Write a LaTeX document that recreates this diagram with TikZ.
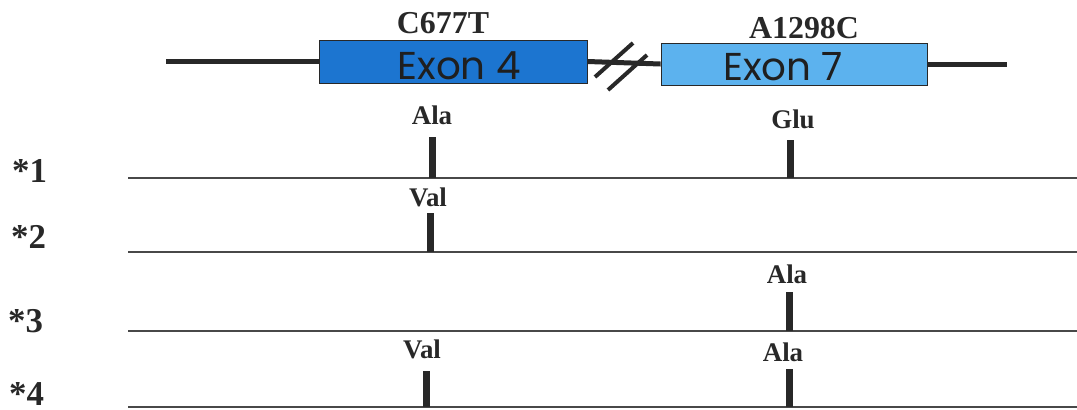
\documentclass[tikz,border=0pt]{standalone}
\usepackage{fontspec}
\setmainfont{Liberation Serif}
\newfontfamily\exonfont{Poppins}
\definecolor{exonA}{RGB}{28,117,208}
\definecolor{exonB}{RGB}{92,178,238}
\definecolor{ink}{RGB}{40,40,40}
\begin{document}
\begin{tikzpicture}[x=1bp,y=-1bp,
  gene/.style={line width=5bp, draw=ink},
  breakmark/.style={line width=4bp, draw=ink},
  exonbox/.style={draw=ink, line width=0.8bp, inner sep=0pt},
  exontext/.style={inner sep=0pt, anchor=base,
    font=\exonfont\fontsize{39}{39}\selectfont, text=black!88},
  sitelabel/.style={font=\bfseries\fontsize{32}{32}\selectfont, text=ink, anchor=base, inner sep=0pt},
  aalabel/.style={font=\bfseries\fontsize{27}{27}\selectfont, text=ink, anchor=base, inner sep=0pt},
  rowlabel/.style={font=\bfseries\fontsize{35}{35}\selectfont, text=ink, anchor=base west, inner sep=0pt},
  allele/.style={line width=1.4bp, draw=ink!85},
  snpbar/.style={line width=7bp, draw=ink}
]
\useasboundingbox (0,0) rectangle (1077,409);

% gene structure
\node[exonbox, fill=exonA, minimum width=268bp, minimum height=43bp] (exon4) at (453,61.5) {};
\node[exonbox, fill=exonB, minimum width=266bp, minimum height=42bp] (exon7) at (794,64) {};
\node[exontext] (exon4txt) at (459,79) {Exon 4};
\node[exontext] (exon7txt) at (783,80) {Exon 7};
\coordinate (gl) at (166,61.5);
\coordinate (gr) at (1007,64);
\draw[gene] (gl) -- (exon4.west);
\draw[gene] (exon4.east) -- (exon7.west);
\draw[gene] (exon7.east) -- (gr);
\draw[breakmark] (595,77) -- (633,43);
\draw[breakmark] (608,90) -- (647,55);

\node[sitelabel] (c677t) at (443,33) {C677T};
\node[sitelabel] (a1298c) at (804,38) {A1298C};

% haplotype rows
\node[rowlabel] (r1) at (12,182) {*1};
\node[rowlabel] (r2) at (11,248) {*2};
\node[rowlabel] (r3) at (8,332) {*3};
\node[rowlabel] (r4) at (9,405) {*4};

\foreach \n/\y in {1/178,2/252,3/331,4/407}{
  \coordinate (s\n) at (128,\y);
  \coordinate (e\n) at (1077,\y);
  \draw[allele] (s\n) -- (e\n);
}

% substitution markers
\coordinate (m1a) at (432,137);
\coordinate (m1b) at (790,140);
\coordinate (m2a) at (430,213);
\coordinate (m3b) at (789,292);
\coordinate (m4a) at (426,371);
\coordinate (m4b) at (789,369);
\draw[snpbar] (m1a) -- (m1a |- s1);
\draw[snpbar] (m1b) -- (m1b |- s1);
\draw[snpbar] (m2a) -- (m2a |- s2);
\draw[snpbar] (m3b) -- (m3b |- s3);
\draw[snpbar] (m4a) -- (m4a |- s4);
\draw[snpbar] (m4b) -- (m4b |- s4);

\node[aalabel] (aa1a) at (432,124) {Ala};
\node[aalabel] (aa1b) at (793,128) {Glu};
\node[aalabel] (aa2a) at (428,206) {Val};
\node[aalabel] (aa3b) at (787,283) {Ala};
\node[aalabel] (aa4a) at (422,358) {Val};
\node[aalabel] (aa4b) at (783,361) {Ala};
\end{tikzpicture}
\end{document}
